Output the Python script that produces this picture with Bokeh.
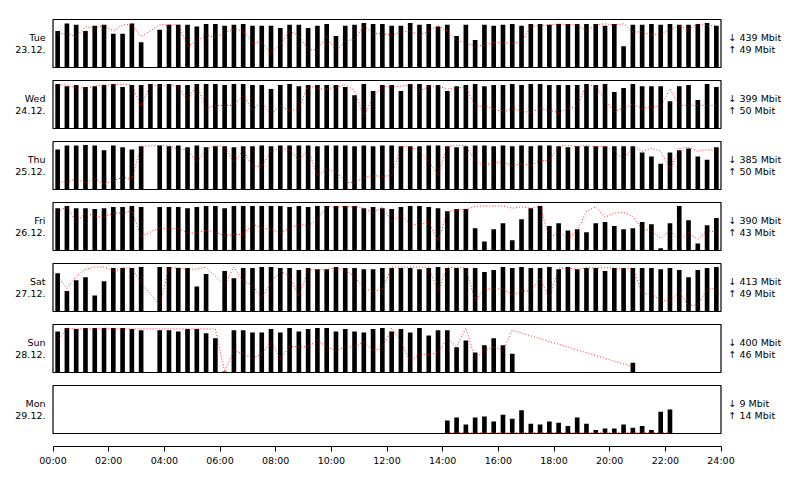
from bokeh.plotting import figure
from bokeh.models import Range1d, FixedTicker, LinearAxis, ColumnDataSource
from bokeh.embed import file_html
from bokeh.resources import INLINE

# ---------------- data ----------------
day_labels = ["Tue\n23.12.", "Wed\n24.12.", "Thu\n25.12.", "Fri\n26.12.",
              "Sat\n27.12.", "Sun\n28.12.", "Mon\n29.12."]
down_max_mbit = [439, 399, 385, 390, 413, 400, 9]
up_max_mbit = [49, 50, 50, 43, 49, 46, 14]

# 72 slots of 20 minutes per day, bar centre in minutes after midnight
slot_minutes = list(range(10, 1440, 20))

# relative download (bars) and upload (dotted line) per 20-minute slot, None = no data
tue_down = [.82, .99, .96, .82, .94, .96, .76, .76, .99, .57, None, .85, .96, .96, .96, .92, .98, .98, .94, .96,
            .98, .94, .94, .94, .89, .96, .96, .89, .94, .98, .71, .94, .96, 1.0, .98, .98, .94, .94, 1.0, .96,
            .98, .92, .96, .71, .96, .62, .96, .94, .96, .98, .94, .98, .98, .96, .98, .98, .98, .98, .98, .94,
            .98, .48, .96, .96, .98, .96, .98, .96, .96, .98, 1.0, .94]
tue_up = [.76, .76, .69, .92, .89, .94, .82, .96, .96, .69, None, .96, .96, .96, .48, .60, .73, .67, .78, .87,
          .82, .56, .57, .32, .52, .82, .71, .40, .40, .71, .37, .60, .63, .94, .76, .76, .73, .80, .82, .73,
          .82, .94, .82, .62, .55, .48, .50, .57, .55, .55, .57, .92, .94, .96, .98, .96, .96, .82, .96, .98,
          .96, .98, .80, .80, .73, .75, .86, .94, .86, .98, .94, .94]

wed_down = [1.0, .95, .98, .93, .95, .98, 1.0, .93, .98, .98, 1.0, 1.0, 1.0, .98, .98, 1.0, 1.0, 1.0, .98, 1.0,
            1.0, .98, .98, .89, .98, 1.0, .95, .98, .98, .98, .98, .93, .75, 1.0, .84, .98, .98, .84, 1.0, 1.0,
            .98, .98, .84, .95, .98, 1.0, .95, .98, .98, 1.0, .98, 1.0, 1.0, .98, .98, .98, .98, 1.0, .98, 1.0,
            .82, .91, 1.0, .95, .95, .95, .61, .95, .98, .64, 1.0, .93]
wed_up = [.98, .98, .91, .91, .95, .98, .98, 1.0, .98, .50, .98, .95, .98, .95, .64, .98, .45, .52, .52, .52,
          .75, .41, .61, .30, .52, .39, .45, .98, .89, .89, .93, .98, .86, .27, .70, .95, .93, .95, .98, .84,
          .95, .95, .89, .91, .93, .50, .50, .45, .36, .45, .39, .36, .45, .41, .36, .45, .50, .98, .95, .64,
          .39, .45, .55, .45, .50, .50, .89, .52, .52, .52, .52, .52]

thu_down = [.90, .99, .99, 1.0, .99, .88, .99, .95, .90, .97, None, .99, .97, .99, .95, .99, .95, .97, .97, .95,
            .97, .97, .99, .97, .99, .99, .99, .99, .97, .99, .99, .99, .97, .99, .97, .99, .99, .97, .97, .97,
            .99, .99, .97, .95, .97, .99, .99, .97, .99, .97, .99, .97, .99, .99, .97, .95, .97, .97, .97, .97,
            .97, .97, .97, .83, .74, .58, .83, .88, .92, .74, .67, .95]
thu_up = [.17, .17, .24, .15, .24, .12, .20, .27, .24, .97, None, .99, .99, .90, .90, .61, .90, .99, .97, .61,
          .90, .52, .52, .86, .92, .90, .65, .90, .31, .45, .40, .17, .15, .27, .31, .30, .31, .97, .97, .86,
          .63, .33, .97, .99, .99, .63, .54, .61, .61, .54, .58, .54, .65, .65, .97, .99, .97, .99, .97, .97,
          .86, .67, .97, .86, .92, .86, .45, .92, .95, .86, .90, .86]

fri_down = [.95, 1.0, .95, .95, .93, .95, .98, .98, 1.0, .98, None, .98, .98, .98, .95, .98, 1.0, 1.0, .95, 1.0,
            1.0, 1.0, 1.0, 1.0, 1.0, .98, 1.0, .98, 1.0, 1.0, 1.0, 1.0, 1.0, .95, .98, .95, .93, .98, 1.0, 1.0,
            .98, .95, .88, .93, .93, .50, .20, .48, .61, .23, .70, .95, 1.0, .55, .61, .45, .48, .41, .61, .64,
            .55, .48, .50, .64, .59, .05, .61, 1.0, .68, .16, .57, .73]
fri_up = [.88, .98, .65, .84, .77, .75, .84, .84, .90, .31, None, .52, .48, .50, .39, .39, .46, .41, .34, .36,
          .36, .60, .50, .48, .40, .49, .60, .55, .70, .98, .98, .98, .98, .95, .84, .98, .65, .80, .60, .57,
          .65, .20, .88, .90, .93, .99, 1.0, 1.0, 1.0, .95, .98, .95, 1.0, .27, .42, .27, .45, .88, .98, .75,
          .84, .86, .77, .48, .45, .27, .45, .23, .40, .25, .45, .41]

sat_down = [.86, .46, .70, .77, .36, .68, .98, .98, .98, 1.0, None, 1.0, 1.0, .98, .98, .56, .84, None, .91, .75,
            .98, .98, 1.0, 1.0, .98, .98, .93, .98, .95, .95, 1.0, .98, .98, .95, .95, .98, .98, .98, .98, .95,
            .98, 1.0, .98, .98, .98, .98, .89, .93, 1.0, .98, 1.0, .98, .98, 1.0, .95, 1.0, .95, .98, .98, .91,
            .98, .98, .98, .98, .98, .95, .98, .93, .77, .93, .98, 1.0]
sat_up = [.79, .52, .79, .95, 1.0, 1.0, .91, .98, .98, .64, None, .15, .98, .98, .95, .95, 1.0, None, .59, 1.0,
          .66, .60, .29, .65, .91, .79, .34, .93, .93, .95, .98, .93, .79, .52, .45, .50, 1.0, 1.0, 1.0, 1.0,
          1.0, .45, 1.0, .98, .98, .24, .52, .50, .52, .36, .47, .45, .75, .29, .98, .98, .95, .98, .98, .98,
          .98, .95, .98, .40, .40, .24, .24, .45, .13, .15, .50, .52]

sun_down = [.92, 1.0, .98, 1.0, 1.0, 1.0, 1.0, 1.0, .98, .95, None, .95, .95, .92, .98, .98, .88, .77, .02, .95,
            .95, .90, .90, .98, .90, 1.0, .92, .98, 1.0, 1.0, .92, .98, .92, .90, .98, 1.0, .92, .98, .90, 1.0,
            .83, .95, .95, .57, .72, .45, .61, .77, .61, .42, None, None, None, None, None, None, None, None, None, None,
            None, None, .22, None, None, None, None, None, None, None, None, None]
sun_up = [.70, 1.0, .98, .98, .98, 1.0, .98, .98, .98, .98, None, .98, .98, .98, .98, .98, .98, .98, .02, .49,
          .42, .31, .42, .70, .31, .58, .58, .58, .72, .58, .49, .58, .56, .70, .49, .55, 1.0, .70, .24, .42,
          .40, .45, .77, .58, 1.0, .31, .49, .58, .49, .95, None, None, None, None, None, None, None, None, None, None,
          None, None, .13, None, None, None, None, None, None, None, None, None]

mon_down = [None] * 42 + [.29, .36, .20, .36, .38, .27, .42, .33, .52, .22, .20, .27, .24, .17, .36, .22, .08,
                          .11, .11, .20, .13, .17, .08, .49, .54] + [None] * 5
mon_up = [None] * 42 + [.02, .02, .02, .03, .02, .02, .02, .02, .03, .02, .02, .02, .02, .02, .02, .02, .02,
                        .02, .02, .02, .02, .02, .02, .02, .03] + [None] * 5

down_rel = [tue_down, wed_down, thu_down, fri_down, sat_down, sun_down, mon_down]
up_rel = [tue_up, wed_up, thu_up, fri_up, sat_up, sun_up, mon_up]
for arr in down_rel + up_rel:
    assert len(arr) == 72

hour_ticks = [0, 2, 4, 6, 8, 10, 12, 14, 16, 18, 20, 22, 24]

# ---------------- layout (1 y unit = 1 px) ----------------
FIG_W, FIG_H = 800, 480
B_LEFT, B_RIGHT, B_TOP, B_BOTTOM = 51, 78, 17, 34
FRAME_W = FIG_W - B_LEFT - B_RIGHT
FRAME_H = FIG_H - B_TOP - B_BOTTOM
PX_PER_H = 668 / 24.0
PAD = (FRAME_W - 668) / 2 / PX_PER_H
PANEL_H = 48
PITCH = 61
FIRST_BOTTOM = 379
BAR_FULL = 44.5
BAR_W = 10 / 60.0
FONT = "DejaVu Sans"
FS = "9.5px"

p = figure(width=FIG_W, height=FIG_H,
           x_range=Range1d(-PAD, 24 + PAD), y_range=Range1d(0, FRAME_H),
           output_backend="svg", toolbar_location=None,
           min_border_left=B_LEFT, min_border_right=B_RIGHT, min_border_top=B_TOP, min_border_bottom=B_BOTTOM,
           background_fill_color="white", border_fill_color="white", outline_line_color=None)
p.xgrid.visible = False
p.ygrid.visible = False

bottoms = [FIRST_BOTTOM - PITCH * k for k in range(7)]
centers = [b + PANEL_H / 2 for b in bottoms]

for k in range(7):
    b = bottoms[k]
    bx, btop, lx, ly = [], [], [], []
    for m, d, u in zip(slot_minutes, down_rel[k], up_rel[k]):
        h = m / 60.0
        if d is not None:
            bx.append(h)
            btop.append(b + d * BAR_FULL)
        if u is not None:
            lx.append(h)
            ly.append(b + u * BAR_FULL)
    p.vbar(x=bx, width=BAR_W, bottom=b, top=btop, fill_color="black", line_color=None)
    p.line(x=lx, y=ly, line_color="red", line_width=1, line_dash="1 2", line_alpha=0.85)

frames = ColumnDataSource(dict(bottom=bottoms, top=[b + PANEL_H for b in bottoms]))
p.quad(left=0, right=24, bottom="bottom", top="top", source=frames,
       fill_color=None, line_color="black", line_width=1.2)


def style_label_axis(ax):
    ax.axis_line_color = None
    ax.major_tick_line_color = None
    ax.minor_tick_line_color = None
    ax.major_tick_out = 0
    ax.major_tick_in = 0
    ax.minor_tick_out = 0
    ax.major_label_standoff = 6
    ax.major_label_text_font = FONT
    ax.major_label_text_font_size = FS
    ax.major_label_text_line_height = 1.05
    ax.major_label_text_color = "black"


# left axis: day labels
ya = p.yaxis[0]
ya.ticker = FixedTicker(ticks=centers)
ya.major_label_overrides = {c: lab for c, lab in zip(centers, day_labels)}
style_label_axis(ya)

# right axis: max values
ra = LinearAxis(ticker=FixedTicker(ticks=centers),
                major_label_overrides={c: f"\u2193 {d} Mbit\n\u2191 {u} Mbit"
                                       for c, d, u in zip(centers, down_max_mbit, up_max_mbit)})
style_label_axis(ra)
p.add_layout(ra, "right")

# bottom time axis
xa = p.xaxis[0]
xa.ticker = FixedTicker(ticks=hour_ticks)
xa.major_label_overrides = {h: f"{h:02d}:00" for h in hour_ticks}
xa.bounds = (0, 24)
xa.axis_line_color = "black"
xa.major_tick_line_color = "black"
xa.major_tick_in = 0
xa.major_tick_out = 5
xa.minor_tick_line_color = None
xa.major_label_standoff = 3
xa.major_label_text_font = FONT
xa.major_label_text_font_size = FS
xa.major_label_text_color = "black"

open("out.html", "w").write(file_html(p, INLINE))
